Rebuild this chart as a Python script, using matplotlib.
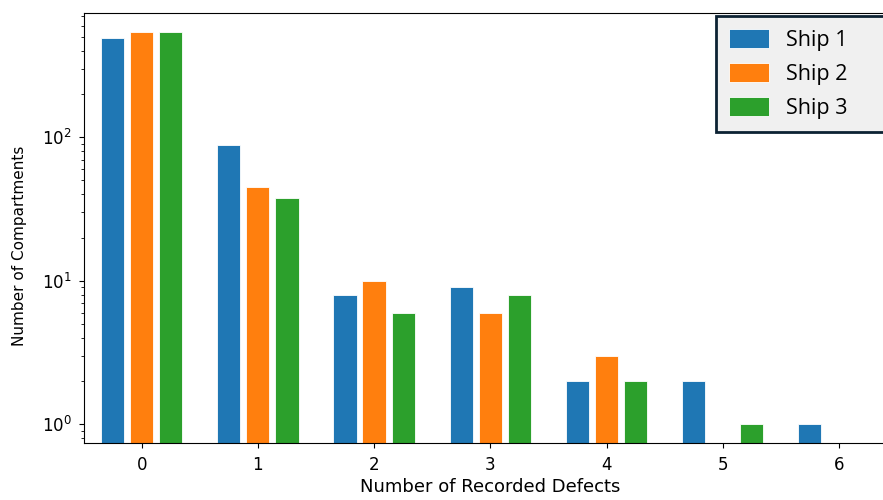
import numpy as np
import matplotlib
matplotlib.use("Agg")
import matplotlib.pyplot as plt

# defect counts per compartment for each ship
defects = [0, 1, 2, 3, 4, 5, 6]
ship1 = [490, 89, 8, 9, 2, 2, 1]
ship2 = [538, 45, 10, 6, 3, 0, 0]
ship3 = [545, 38, 6, 8, 2, 1, 0]
labels = ["Ship 1", "Ship 2", "Ship 3"]
colors = ["#1f77b4", "#ff7f0e", "#2ca02c"]

fig = plt.figure(figsize=(8.83, 5), dpi=100)
ax = fig.add_axes([0.0946, 0.1146, 0.9213, 0.8594])

x = np.array(defects)
width = 0.2
offsets = [-0.25, 0.0, 0.25]
for series, off, lab, col in zip([ship1, ship2, ship3], offsets, labels, colors):
    h = np.array(series, dtype=float)
    h[h <= 0] = np.nan  # nothing to draw on a log axis
    ax.bar(x + off, h, width, color=col, edgecolor="white", linewidth=0.6, label=lab)

ax.set_yscale("log")
ax.set_ylim(0.744, 735)
ax.set_xlim(-0.5, 6.5)
ax.set_xticks(defects)
ax.tick_params(axis="x", labelsize=12, pad=6)
ax.tick_params(axis="y", labelsize=12, pad=5)
ax.set_xlabel("Number of Recorded Defects", fontsize=13, labelpad=3)
ax.set_ylabel("Number of Compartments", fontsize=11)
ax.yaxis.set_label_coords(-0.0695, 0.458)

leg = ax.legend(loc="upper left", bbox_to_anchor=(716 / 883, 1 - 16 / 500, 172 / 883, 0),
                bbox_transform=fig.transFigure, mode="expand",
                prop={"family": "Open Sans", "size": 15.5},
                fancybox=False, framealpha=1, facecolor="#f0f0f0", edgecolor="#0c2233",
                borderpad=0.6, handlelength=1.85, handleheight=1.0, handletextpad=0.8,
                labelspacing=0.55, borderaxespad=0)
leg.get_frame().set_linewidth(2.0)

fig.savefig("out.png", dpi=100)
